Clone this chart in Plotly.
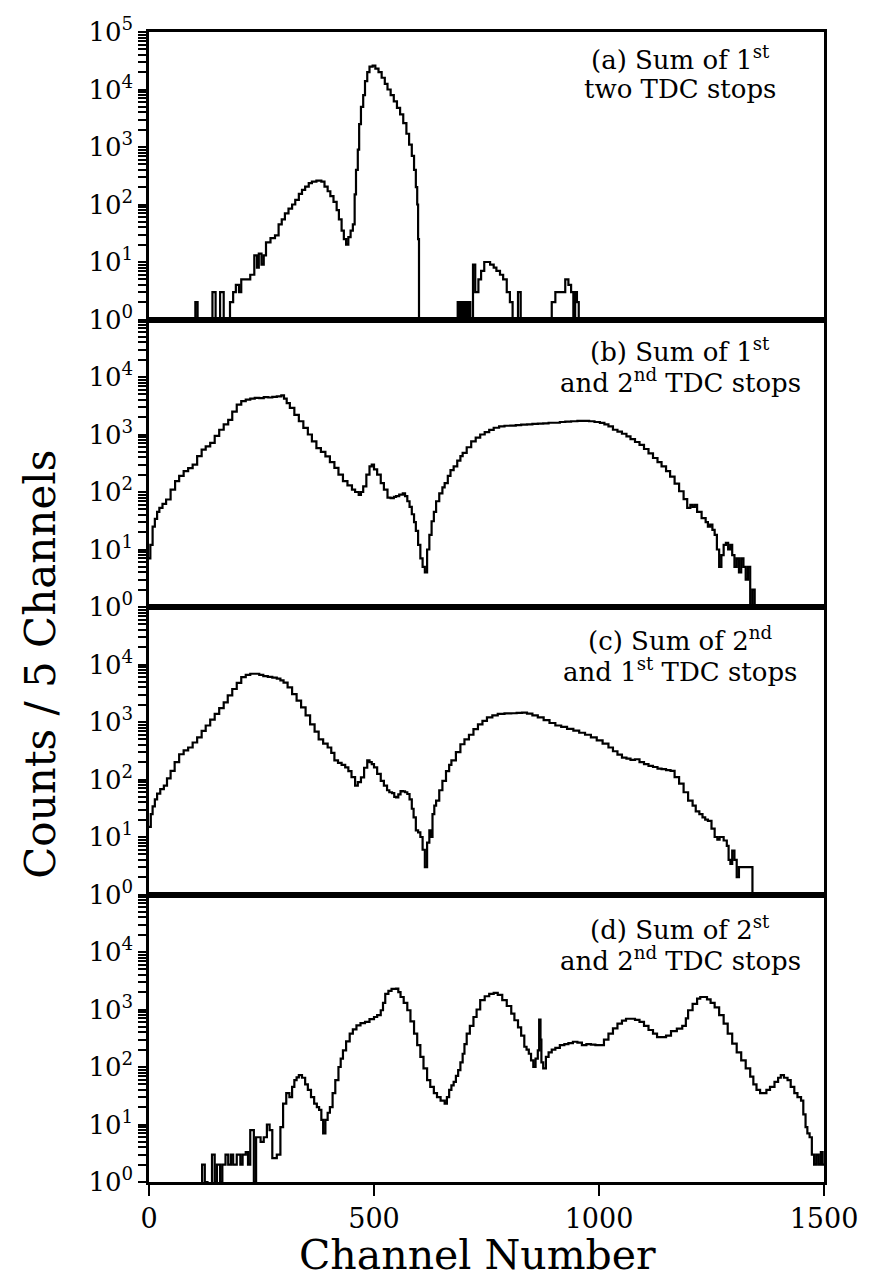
import plotly.graph_objects as go
from plotly.subplots import make_subplots

# ---------------- data (channel = start of step, counts per 5 channels) -------------
ch_a = [0, 103, 108, 141, 148, 158, 166, 180, 187, 193, 200, 205, 215, 225, 234, 240, 244,
        250, 255, 260, 270, 280, 288, 295, 302, 310, 318, 325, 333, 340, 347, 355, 362, 372,
        383, 390, 397, 403, 410, 417, 422, 428, 433, 438, 443, 448, 453, 457, 460, 464, 467,
        471, 476, 480, 485, 490, 497, 503, 510, 517, 524, 530, 537, 544, 551, 558, 565, 572,
        578, 584, 589, 593, 596, 598, 600, 686, 690, 694, 698, 702, 706, 710, 714, 720, 725,
        732, 738, 745, 752, 758, 766, 772, 780, 787, 795, 802, 808, 820, 826, 895, 903, 915,
        925, 932, 938, 943, 947, 951, 955, 960, 1500]
counts_a = [0, 2, 0, 3, 0, 3, 0, 2, 3, 4, 3, 5, 5, 6, 13, 8, 14,
            9, 13, 22, 26, 29, 45, 55, 70, 85, 100, 120, 153, 180, 205, 235, 250, 260,
            250, 205, 170, 140, 111, 80, 55, 35, 25, 20, 27, 35, 45, 150, 400, 900, 2500,
            5000, 8000, 14000, 20000, 25000, 26000, 23000, 20000, 16000, 12500, 10000, 8000, 6200, 4800, 3700, 2600, 1700,
            1100, 700, 400, 200, 100, 25, 0, 2, 1, 2, 1, 2, 1, 2, 1, 9, 3,
            5, 7, 10, 10, 9, 8, 7, 6, 5, 3, 2, 0, 3, 0, 2, 3, 3,
            5, 4, 3, 1, 3, 2, 1, 0, 0]

ch_b = [0, 3, 8, 13, 18, 23, 30, 38, 48, 58, 67, 77, 87, 97, 107, 117, 126, 136, 146, 156,
        166, 176, 185, 195, 205, 215, 225, 235, 245, 255, 265, 274, 284, 294, 300, 306, 313,
        323, 333, 343, 353, 362, 372, 382, 392, 402, 412, 421, 431, 441, 451, 458, 466, 471,
        476, 483, 490, 495, 500, 507, 515, 522, 530, 537, 544, 549, 556, 564, 569, 574, 579,
        584, 589, 593, 598, 603, 608, 613, 618, 623, 628, 633, 638, 645, 652, 657, 664, 670,
        677, 685, 692, 697, 706, 716, 726, 736, 746, 756, 766, 778, 790, 803, 815, 827, 840,
        852, 864, 876, 888, 900, 913, 925, 938, 952, 965, 978, 990, 1002, 1012, 1021, 1031,
        1041, 1051, 1061, 1070, 1080, 1090, 1100, 1110, 1120, 1130, 1139, 1149, 1158, 1168,
        1178, 1188, 1196, 1203, 1208, 1213, 1218, 1228, 1237, 1242, 1247, 1252, 1257, 1262,
        1267, 1272, 1277, 1282, 1287, 1292, 1296, 1301, 1306, 1311, 1316, 1321, 1326, 1331,
        1336, 1341, 1346, 1500]
counts_b = [7, 12, 25, 34, 45, 53, 62, 74, 110, 154, 190, 230, 260, 300, 420, 545, 620, 715, 950, 1210,
            1500, 1800, 2500, 3300, 3800, 4050, 4200, 4350, 4300, 4450, 4400, 4500, 4600, 4800, 4200, 3500, 2900,
            2200, 1700, 1300, 1000, 760, 580, 500, 415, 330, 262, 200, 154, 130, 110, 100, 89, 100,
            125, 200, 280, 300, 247, 200, 143, 110, 80, 78, 82, 85, 90, 95, 85, 69, 55,
            41, 30, 21, 12, 7, 5, 4, 10, 18, 31, 45, 69, 95, 120, 143, 190, 240,
            280, 350, 420, 480, 600, 760, 880, 1000, 1100, 1200, 1310, 1380, 1420, 1430, 1450, 1480, 1500,
            1530, 1550, 1560, 1600, 1600, 1650, 1680, 1700, 1730, 1720, 1700, 1650, 1590, 1500, 1380, 1210,
            1120, 1030, 930, 830, 740, 660, 560, 470, 390, 330, 280, 230, 185, 140,
            103, 75, 53, 60, 55, 60, 45, 35, 30, 25, 27, 22, 18, 10,
            5, 8, 12, 13, 10, 12, 8, 5, 7, 4, 7, 5, 3, 5,
            1, 2, 0, 0]

ch_c = [0, 4, 8, 13, 18, 25, 33, 40, 48, 57, 67, 77, 87, 97, 107, 117, 126, 136, 146, 156,
        166, 175, 185, 195, 205, 215, 225, 235, 245, 254, 264, 274, 284, 292, 299, 308, 318,
        328, 338, 348, 358, 368, 377, 387, 397, 405, 412, 420, 428, 436, 443, 450, 458, 464,
        471, 478, 485, 490, 495, 500, 507, 515, 522, 529, 534, 540, 545, 549, 554, 559, 564,
        569, 574, 579, 584, 588, 593, 598, 603, 608, 613, 618, 623, 626, 630, 634, 638, 645,
        652, 660, 667, 672, 682, 692, 701, 711, 721, 731, 741, 751, 763, 775, 790, 805, 817,
        829, 840, 852, 864, 877, 890, 903, 916, 929, 943, 956, 969, 982, 995, 1008, 1021,
        1031, 1041, 1051, 1061, 1070, 1080, 1090, 1100, 1110, 1120, 1130, 1139, 1149, 1159,
        1168, 1178, 1188, 1198, 1208, 1215, 1223, 1230, 1236, 1242, 1250, 1257, 1263, 1268,
        1277, 1284, 1288, 1292, 1296, 1301, 1306, 1311, 1341, 1500]
counts_c = [15, 25, 34, 45, 57, 68, 78, 105, 141, 200, 275, 320, 360, 440, 540, 700, 870, 1100, 1380, 1750,
            2200, 2900, 3750, 4800, 6050, 6600, 6900, 6900, 6600, 6300, 6100, 5900, 5700, 5300, 4850, 4000, 3050,
            2350, 1790, 1300, 910, 680, 500, 420, 360, 290, 215, 195, 180, 163, 140, 110, 78, 90,
            109, 160, 215, 200, 185, 163, 125, 95, 78, 65, 60, 58, 50, 49, 55, 63, 62,
            60, 56, 45, 31, 22, 13, 12, 10, 6, 3, 8, 13, 10, 25, 35, 43, 65,
            95, 140, 180, 215, 300, 410, 500, 600, 750, 910, 1050, 1200, 1300, 1380, 1410, 1420, 1440,
            1460, 1400, 1300, 1200, 1080, 960, 870, 820, 760, 710, 650, 600, 540, 480, 420, 360,
            310, 270, 240, 230, 220, 225, 200, 185, 172, 165, 155, 151, 145, 141,
            110, 85, 60, 43, 35, 28, 25, 22, 20, 19, 14, 10, 9, 10,
            8.7, 7, 4, 3.4, 5.8, 4, 2, 3, 0, 0]

ch_d = [0, 118, 124, 130, 140, 146, 151, 158, 163, 170, 176, 182, 187, 195, 203, 208, 215,
        220, 225, 233, 238, 248, 255, 262, 268, 274, 284, 292, 298, 305, 312, 318, 323, 328,
        333, 340, 347, 353, 360, 367, 373, 378, 383, 387, 392, 397, 402, 408, 414, 421, 426,
        431, 438, 446, 453, 461, 470, 480, 490, 500, 507, 515, 520, 525, 532, 539, 549, 554,
        559, 566, 574, 581, 589, 596, 603, 610, 618, 625, 633, 640, 648, 657, 662, 667, 672,
        677, 682, 687, 692, 697, 701, 706, 713, 721, 728, 736, 746, 756, 766, 775, 785, 795,
        805, 812, 820, 827, 834, 839, 844, 849, 854, 859, 864, 867, 870, 872, 876, 882, 888,
        895, 903, 913, 923, 932, 942, 952, 962, 972, 982, 992, 1001, 1011, 1021, 1031, 1041,
        1051, 1060, 1070, 1080, 1090, 1100, 1110, 1120, 1129, 1139, 1149, 1160, 1173, 1185,
        1193, 1198, 1208, 1218, 1225, 1232, 1240, 1248, 1257, 1267, 1277, 1286, 1296, 1306,
        1316, 1326, 1336, 1343, 1350, 1358, 1365, 1372, 1380, 1390, 1398, 1404, 1411, 1419,
        1426, 1434, 1441, 1449, 1454, 1459, 1463, 1468, 1473, 1478, 1483, 1488, 1493, 1497, 1500]
counts_d = [0, 2, 1, 0, 3, 1, 2, 1, 2, 3, 2, 3, 2, 3, 2, 3, 3.3,
            2, 8, 1, 6, 5, 6, 10, 8, 2.6, 3, 9, 23, 35, 30, 45, 59, 66,
            72, 65, 50, 40, 30, 23, 20, 18, 12, 7, 12, 16, 20, 35, 59, 100, 140,
            195, 280, 380, 450, 530, 580, 610, 680, 740, 800, 970, 1300, 1870, 2100, 2290, 2300, 2000,
            1650, 1300, 970, 620, 380, 240, 150, 95, 59, 45, 35, 30, 26, 23, 30, 40, 48,
            55, 70, 88, 120, 170, 250, 380, 520, 740, 1000, 1450, 1700, 1870, 1950, 1800, 1450, 1150,
            850, 650, 490, 350, 225, 200, 170, 130, 100, 140, 195, 670, 300, 120, 95, 150, 180,
            200, 215, 240, 250, 260, 275, 265, 240, 250, 245, 240, 240, 300, 380, 470, 570,
            640, 690, 690, 660, 610, 520, 440, 380, 330, 330, 350, 420, 465, 520,
            700, 970, 1250, 1550, 1650, 1650, 1500, 1300, 1090, 800, 570, 380, 255, 180,
            130, 95, 68, 50, 40, 35, 35, 40, 45, 55, 65, 72, 65, 59,
            45, 35, 30, 26, 15, 9, 7, 6, 3, 2, 3, 2, 3.3, 2, 2]

panel_labels = [("(a) Sum of 1<sup>st</sup>", "two TDC stops"),
                ("(b) Sum of 1<sup>st</sup>", "and 2<sup>nd</sup> TDC stops"),
                ("(c) Sum of 2<sup>nd</sup>", "and 1<sup>st</sup> TDC stops"),
                ("(d) Sum of 2<sup>st</sup>", "and 2<sup>nd</sup> TDC stops")]
x_ticks = [0, 500, 1000, 1500]
x_title = "Channel Number"
y_title = "Counts / 5 Channels"

# ---------------- figure ----------------
W, H = 870, 1280
ML, MR, MT, MB = 149, 35, 32, 98
PW, PH = W - ML - MR, H - MT - MB
FONT = "DejaVu Serif"


def px(xp):
    return (xp - ML) / PW


def py(yp):
    return (H - MB - yp) / PH


fig = make_subplots(rows=4, cols=1, shared_xaxes=True, vertical_spacing=0)

panels = [(ch_a, counts_a), (ch_b, counts_b), (ch_c, counts_c), (ch_d, counts_d)]
for i, (ch, cnt) in enumerate(panels):
    yy = [c if c > 0 else 0.01 for c in cnt]  # zero counts fall below the axis floor
    fig.add_trace(go.Scatter(x=ch, y=yy, mode="lines",
                             line=dict(shape="hv", color="black", width=2.2),
                             showlegend=False, hoverinfo="skip"), row=i + 1, col=1)

for i in range(4):
    top = 6 if i == 0 else 5
    tv, tt = [], []
    for d in range(6):
        for k in range(1, 10):
            v = k * 10 ** d
            if v > 10 ** 5:
                continue
            tv.append(v)
            tt.append("10<sup>%d</sup>" % d if (k == 1 and d < top) else " ")
    fig.update_yaxes(type="log", range=[0, 5],
                     tickmode="array", tickvals=tv, ticktext=tt,
                     ticks="outside", ticklen=8, tickwidth=1.8, tickcolor="black",
                     showline=True, mirror=True, linewidth=2.5, linecolor="black",
                     showgrid=False, zeroline=False,
                     tickfont=dict(family=FONT, size=26, color="black"),
                     row=i + 1, col=1)
    fig.update_xaxes(range=[0, 1500], showline=True, mirror=True, linewidth=2.5,
                     linecolor="black", showgrid=False, zeroline=False,
                     tickvals=x_ticks, ticks="outside" if i == 3 else "",
                     ticklen=11, tickwidth=1.5, tickcolor="black",
                     showticklabels=(i == 3),
                     tickfont=dict(family=FONT, size=27, color="black"),
                     row=i + 1, col=1)

annos = []
line_pos = [(58, 89), (350, 381), (639, 670), (928, 959)]
for (l1, l2), (y1, y2) in zip(panel_labels, line_pos):
    annos.append(dict(text=l1, x=px(689), y=py(y1), xref="paper", yref="paper",
                      xanchor="center", yanchor="middle", showarrow=False,
                      font=dict(family=FONT, size=26, color="black")))
    annos.append(dict(text=l2, x=px(689), y=py(y2), xref="paper", yref="paper",
                      xanchor="center", yanchor="middle", showarrow=False,
                      font=dict(family=FONT, size=26, color="black")))

annos.append(dict(text=x_title, x=px(483), y=py(1255), xref="paper", yref="paper",
                  xanchor="center", yanchor="middle", showarrow=False,
                  font=dict(family=FONT, size=41, color="black")))
annos.append(dict(text=y_title, x=px(38), y=py(664), xref="paper", yref="paper",
                  xanchor="center", yanchor="middle", showarrow=False, textangle=-90,
                  font=dict(family=FONT, size=42, color="black")))

fig.update_layout(width=W, height=H, margin=dict(l=ML, r=MR, t=MT, b=MB),
                  paper_bgcolor="white", plot_bgcolor="white",
                  annotations=annos, showlegend=False)

fig.write_html("out.html")
